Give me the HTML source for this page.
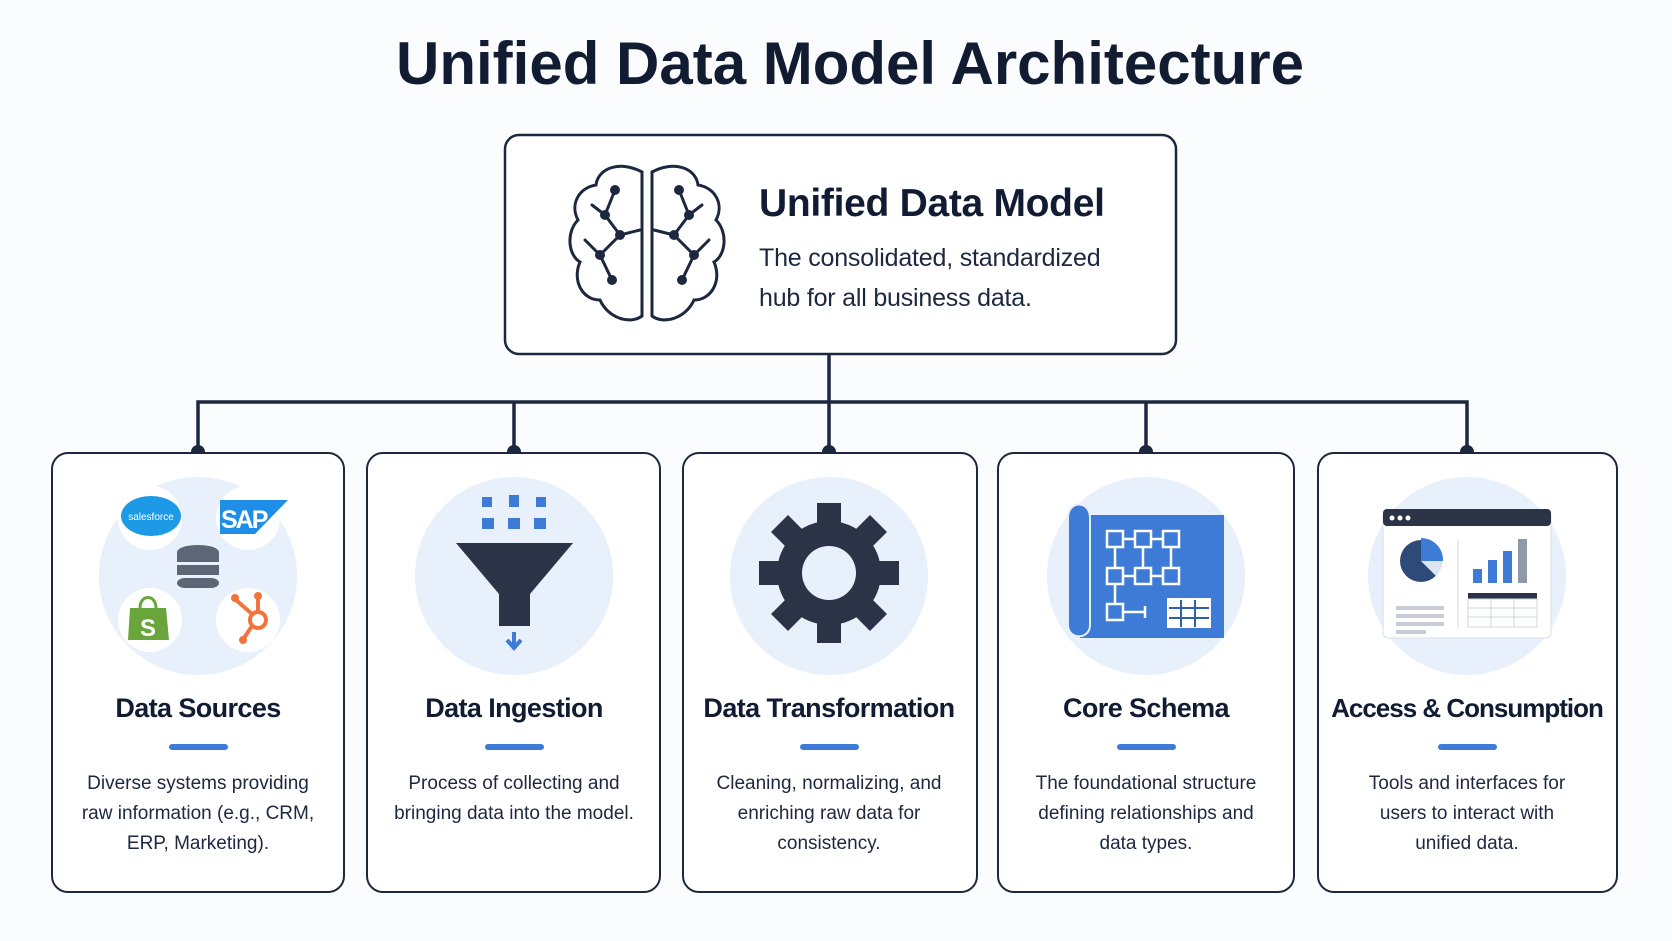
<!DOCTYPE html>
<html><head><meta charset="utf-8"><style>
html,body{margin:0;padding:0;background:#fbfcfe;}
svg{display:block;font-family:"Liberation Sans",sans-serif;}
</style></head><body>
<svg width="1672" height="941" viewBox="0 0 1672 941" xmlns="http://www.w3.org/2000/svg">
<rect width="1672" height="941" fill="#fbfcfe"/>
<text x="850" y="84" text-anchor="middle" font-size="60" font-weight="bold" fill="#111c33" letter-spacing="0">Unified Data Model Architecture</text>

<!-- top box -->
<rect x="505" y="135" width="671" height="219" rx="14" fill="#fff" stroke="#1d2740" stroke-width="2.5"/>
<g fill="none" stroke="#1d2740" stroke-width="3" stroke-linecap="round">
 <path d="M642 172 C620 160 598 168 596 185 C578 188 570 205 578 220 C566 232 568 255 580 262 C572 280 582 300 600 300 C608 318 630 325 642 316 Z"/>
 <path d="M652 172 C674 160 696 168 698 185 C716 188 724 205 716 220 C728 232 726 255 714 262 C722 280 712 300 694 300 C686 318 664 325 652 316 Z"/>
 <path d="M615 190 L605 215 L620 235 L600 255 L612 280 M600 255 L585 240 M620 235 L640 230 M605 215 L592 205"/>
 <path d="M679 190 L689 215 L674 235 L694 255 L682 280 M694 255 L709 240 M674 235 L654 230 M689 215 L702 205"/>
</g>
<g fill="#1d2740"><circle cx="615" cy="190" r="5"/><circle cx="605" cy="215" r="5"/><circle cx="620" cy="235" r="5"/><circle cx="600" cy="255" r="5"/><circle cx="612" cy="280" r="5"/><circle cx="679" cy="190" r="5"/><circle cx="689" cy="215" r="5"/><circle cx="674" cy="235" r="5"/><circle cx="694" cy="255" r="5"/><circle cx="682" cy="280" r="5"/></g>
<text x="759" y="216" font-size="39" font-weight="bold" fill="#111c33" letter-spacing="-0.3">Unified Data Model</text>
<text x="759" y="266" font-size="25" fill="#1d2740" letter-spacing="-0.2">The consolidated, standardized</text>
<text x="759" y="306" font-size="25" fill="#1d2740" letter-spacing="-0.2">hub for all business data.</text>

<!-- connectors -->
<g stroke="#1d2740" stroke-width="3.5" fill="none">
<path d="M829 354 V402 M198 452 V402 H1467 V452 M514 402 V452 M829 402 V452 M1146 402 V452"/>
</g>
<g fill="#1d2740"><circle cx="198" cy="452" r="7"/><circle cx="514" cy="452" r="7"/><circle cx="829" cy="452" r="7"/><circle cx="1146" cy="452" r="7"/><circle cx="1467" cy="452" r="7"/></g>

<!-- cards -->
<g fill="#fff" stroke="#1d2740" stroke-width="2">
<rect x="52" y="453" width="292" height="439" rx="16"/>
<rect x="367" y="453" width="293" height="439" rx="16"/>
<rect x="683" y="453" width="294" height="439" rx="16"/>
<rect x="998" y="453" width="296" height="439" rx="16"/>
<rect x="1318" y="453" width="299" height="439" rx="16"/>
</g>
<g fill="#e8f0fb">
<circle cx="198" cy="576" r="99"/><circle cx="514" cy="576" r="99"/><circle cx="829" cy="576" r="99"/><circle cx="1146" cy="576" r="99"/><circle cx="1467" cy="576" r="99"/>
</g>

<!-- card1 icons -->
<g fill="#fff"><circle cx="150" cy="518" r="32"/><circle cx="248" cy="518" r="32"/><circle cx="150" cy="620" r="32"/><circle cx="248" cy="620" r="32"/></g>
<ellipse cx="151" cy="516" rx="30" ry="20" fill="#1d9ae6"/>
<text x="151" y="520" text-anchor="middle" font-size="10" fill="#fff">salesforce</text>
<path d="M220 500 H288 L255 534 H220 Z" fill="#1e8ee8"/>
<text x="221" y="528" font-size="25" font-weight="bold" fill="#fff" letter-spacing="-2">SAP</text>
<g fill="#5c6677"><ellipse cx="198" cy="552" rx="21" ry="7"/><rect x="177" y="552" width="42" height="10"/><rect x="177" y="565" width="42" height="10"/><rect x="177" y="578" width="42" height="10" rx="8"/></g>
<path d="M130 608 H166 L169 640 H128 Z" fill="#6aa53c"/>
<path d="M140 608 C140 594 156 594 156 608" stroke="#6aa53c" stroke-width="3" fill="none"/>
<text x="140" y="636" font-size="24" font-weight="bold" fill="#fff">S</text>
<g stroke="#f2743c" stroke-width="4" fill="none"><circle cx="258" cy="620" r="8"/><path d="M252 614 L236 600 M258 612 V598 M252 626 L244 638"/></g>
<g fill="#f2743c"><circle cx="235" cy="598" r="4"/><circle cx="258" cy="596" r="4"/><circle cx="243" cy="640" r="4"/></g>

<!-- card2 funnel -->
<g fill="#3d7bd6"><rect x="482" y="497" width="10" height="10"/><rect x="509" y="495" width="10" height="12"/><rect x="536" y="497" width="10" height="10"/><rect x="482" y="518" width="12" height="11"/><rect x="508" y="518" width="12" height="11"/><rect x="534" y="518" width="12" height="11"/></g>
<path d="M456 543 H573 L530 594 V626 H499 V594 Z" fill="#2b3346"/>
<path d="M514 632 V646 M507 640 L514 648 L521 640" stroke="#3d7bd6" stroke-width="4" fill="none"/>

<!-- card3 gear -->
<g transform="translate(829,573)" fill="#2b3346">
<circle r="52"/>
<g><rect x="-12" y="-70" width="24" height="25"/><rect x="-12" y="45" width="24" height="25"/><rect x="-70" y="-12" width="25" height="24"/><rect x="45" y="-12" width="25" height="24"/>
<g transform="rotate(45)"><rect x="-12" y="-70" width="24" height="25"/><rect x="-12" y="45" width="24" height="25"/><rect x="-70" y="-12" width="25" height="24"/><rect x="45" y="-12" width="25" height="24"/></g></g>
<circle r="27" fill="#e8f0fb"/>
</g>

<!-- card4 blueprint -->
<rect x="1080" y="515" width="144" height="123" fill="#3d7bd6"/>
<path d="M1068 518 C1068 500 1090 500 1090 518 V625 C1090 640 1068 640 1068 625 Z" fill="#3d7bd6" stroke="#e8f0fb" stroke-width="2"/>
<g stroke="#fff" stroke-width="2.5" fill="none">
<rect x="1107" y="531" width="16" height="16"/><rect x="1135" y="531" width="16" height="16"/><rect x="1163" y="531" width="16" height="16"/>
<rect x="1107" y="568" width="16" height="16"/><rect x="1135" y="568" width="16" height="16"/><rect x="1163" y="568" width="16" height="16"/>
<rect x="1107" y="604" width="16" height="16"/>
<path d="M1123 539 H1135 M1151 539 H1163 M1115 547 V568 M1143 547 V568 M1171 547 V568 M1123 576 H1135 M1151 576 H1163 M1115 584 V604 M1123 612 H1145 M1145 606 V618"/>
</g>
<rect x="1167" y="598" width="44" height="30" fill="#fff"/>
<g stroke="#2e5fa8" stroke-width="2"><path d="M1169 608 H1209 M1169 618 H1209 M1181 600 V627 M1195 600 V627"/></g>

<!-- card5 dashboard -->
<rect x="1383" y="510" width="168" height="128" rx="5" fill="#fff" stroke="#d8dde6"/>
<rect x="1383" y="509" width="168" height="17" rx="4" fill="#2b3346"/>
<g fill="#fff"><circle cx="1392" cy="518" r="2.5"/><circle cx="1400" cy="518" r="2.5"/><circle cx="1408" cy="518" r="2.5"/></g>
<circle cx="1421" cy="561" r="21" fill="#2e4a78"/>
<path d="M1421 561 V538 A22 22 0 0 1 1443 561 Z" fill="#3d7bd6"/>
<path d="M1421 561 H1442 A21 21 0 0 1 1436 576 Z" fill="#dde5f2"/>
<line x1="1458" y1="540" x2="1458" y2="628" stroke="#cfd5df"/>
<g fill="#3d7bd6"><rect x="1473" y="569" width="9" height="14"/><rect x="1488" y="560" width="9" height="23"/><rect x="1503" y="551" width="9" height="32"/></g>
<rect x="1518" y="539" width="9" height="44" fill="#8f99a8"/>
<g fill="#c7ccd5"><rect x="1396" y="606" width="48" height="4"/><rect x="1396" y="614" width="48" height="4"/><rect x="1396" y="622" width="48" height="4"/><rect x="1396" y="630" width="30" height="4"/></g>
<rect x="1468" y="593" width="69" height="6" fill="#2b3346"/>
<g stroke="#cfd5df" fill="none"><rect x="1468" y="599" width="69" height="28"/><path d="M1468 608 H1537 M1468 617 H1537 M1491 599 V627 M1514 599 V627"/></g>

<!-- titles -->
<g font-size="27" font-weight="bold" fill="#111c33" text-anchor="middle" letter-spacing="-0.6">
<text x="198" y="717">Data Sources</text>
<text x="514" y="717">Data Ingestion</text>
<text x="829" y="717">Data Transformation</text>
<text x="1146" y="717">Core Schema</text>
<text x="1467" y="717" font-size="26" letter-spacing="-1">Access &amp; Consumption</text>
</g>
<g fill="#3d7bd6"><rect x="169" y="744" width="59" height="6" rx="3"/><rect x="485" y="744" width="59" height="6" rx="3"/><rect x="800" y="744" width="59" height="6" rx="3"/><rect x="1117" y="744" width="59" height="6" rx="3"/><rect x="1438" y="744" width="59" height="6" rx="3"/></g>
<g font-size="19" fill="#1d2740" text-anchor="middle">
<text x="198" y="789">Diverse systems providing</text><text x="198" y="819">raw information (e.g., CRM,</text><text x="198" y="849">ERP, Marketing).</text>
<text x="514" y="789">Process of collecting and</text><text x="514" y="819">bringing data into the model.</text>
<text x="829" y="789">Cleaning, normalizing, and</text><text x="829" y="819">enriching raw data for</text><text x="829" y="849">consistency.</text>
<text x="1146" y="789">The foundational structure</text><text x="1146" y="819">defining relationships and</text><text x="1146" y="849">data types.</text>
<text x="1467" y="789">Tools and interfaces for</text><text x="1467" y="819">users to interact with</text><text x="1467" y="849">unified data.</text>
</g>
</svg>
</body></html>
